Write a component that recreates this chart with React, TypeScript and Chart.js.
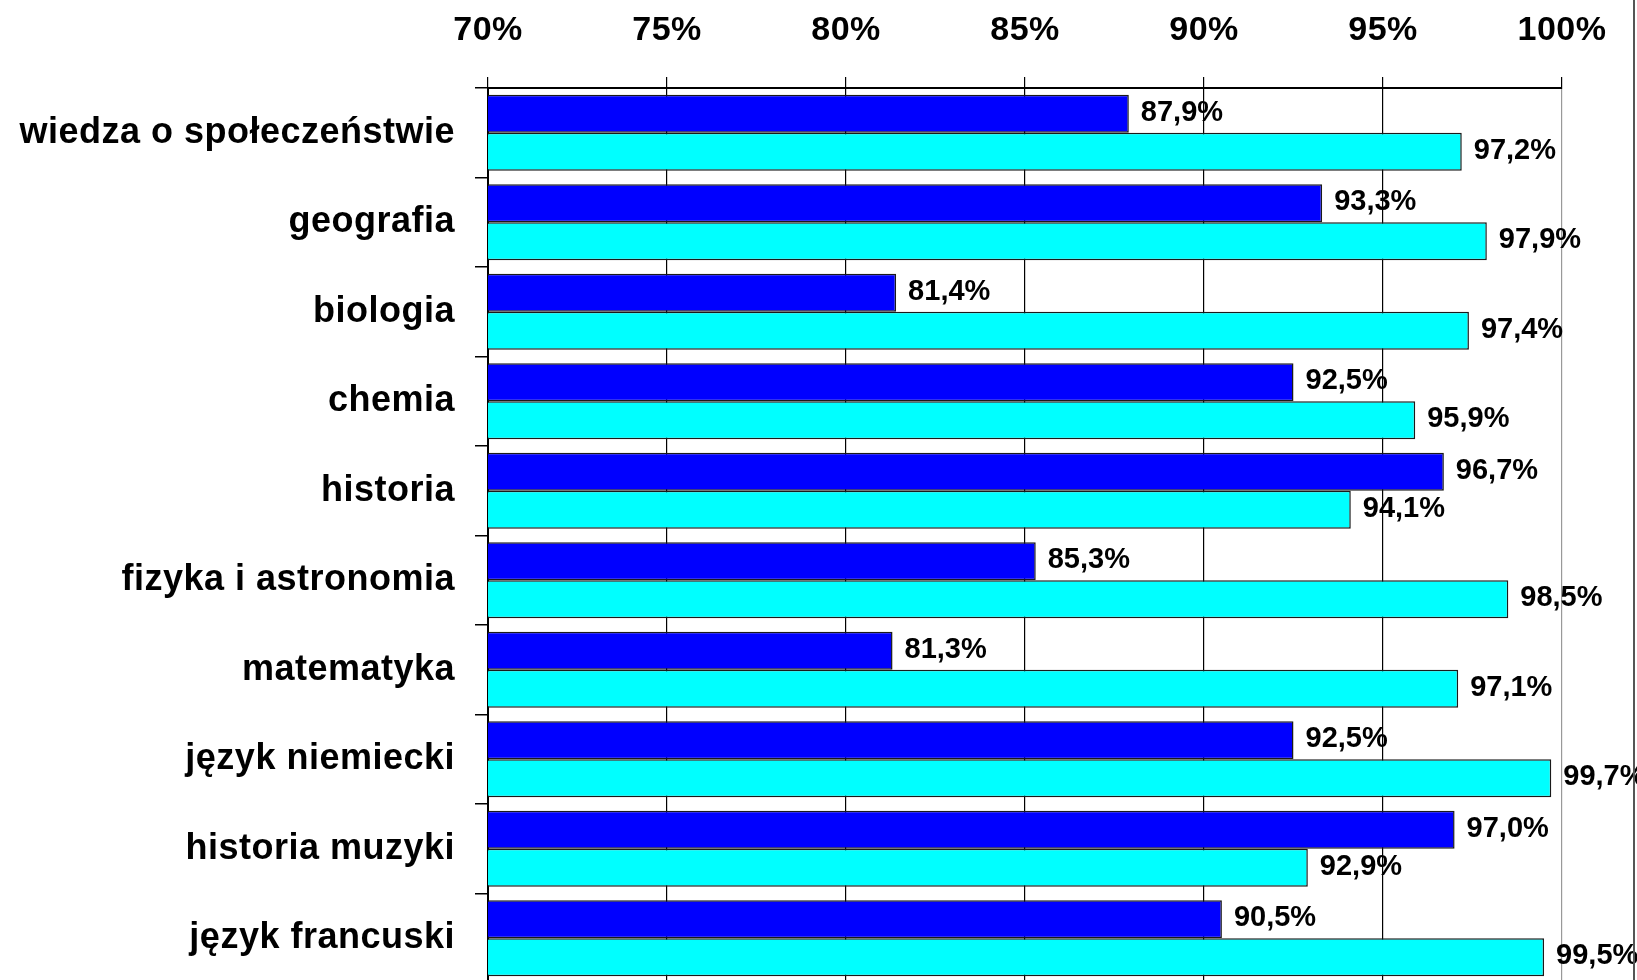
import { useEffect, useRef } from 'react';
import { Chart, registerables } from 'chart.js';

Chart.register(...registerables);

const categories = [
  'wiedza o społeczeństwie',
  'geografia',
  'biologia',
  'chemia',
  'historia',
  'fizyka i astronomia',
  'matematyka',
  'język niemiecki',
  'historia muzyki',
  'język francuski',
];
const seriesDark = [87.9, 93.3, 81.4, 92.5, 96.7, 85.3, 81.3, 92.5, 97.0, 90.5];
const seriesLight = [97.2, 97.9, 97.4, 95.9, 94.1, 98.5, 97.1, 99.7, 92.9, 99.5];
const axisMin = 70;
const axisMax = 100;
const axisStep = 5;

const FONT = '"Liberation Sans", Arial, Helvetica, sans-serif';

export default function App() {
  const ref = useRef<HTMLCanvasElement>(null);

  useEffect(() => {
    const canvas = ref.current;
    if (!canvas) return;

    const labelsPlugin = {
      id: 'valueLabels',
      beforeDraw(chart: any) {
        chart.ctx.letterSpacing = '0.5px';
      },
      afterDatasetsDraw(chart: any) {
        const ctx = chart.ctx;
        ctx.save();
        ctx.letterSpacing = '0px';
        ctx.font = `bold 29px ${FONT}`;
        ctx.fillStyle = '#000';
        ctx.textAlign = 'left';
        ctx.textBaseline = 'middle';
        chart.data.datasets.forEach((ds: any, di: number) => {
          const meta = chart.getDatasetMeta(di);
          meta.data.forEach((el: any, i: number) => {
            const v = ds.data[i] as number;
            const txt = v.toFixed(1).replace('.', ',') + '%';
            ctx.fillText(txt, el.x + 12, el.y - 1);
          });
        });
        ctx.restore();
      },
      afterDraw(chart: any) {
        const ctx = chart.ctx;
        ctx.save();
        ctx.fillStyle = '#555';
        ctx.fillRect(1633, 0, 2, chart.height);
        ctx.restore();
      },
    };

    const chart = new Chart(canvas, {
      type: 'bar',
      data: {
        labels: categories,
        datasets: [
          {
            data: seriesDark,
            backgroundColor: '#0000FF',
            borderColor: '#1a1a1a',
            borderWidth: 1.5,
            categoryPercentage: 0.85,
            barPercentage: 1,
          },
          {
            data: seriesLight,
            backgroundColor: '#00FFFF',
            borderColor: '#1a1a1a',
            borderWidth: 1.5,
            categoryPercentage: 0.85,
            barPercentage: 1,
          },
        ],
      },
      options: {
        indexAxis: 'y',
        responsive: false,
        maintainAspectRatio: false,
        devicePixelRatio: 1,
        animation: false,
        layout: { padding: { top: 0, left: 0, right: 75, bottom: 1 } },
        plugins: {
          legend: { display: false },
          tooltip: { enabled: false },
        },
        scales: {
          x: {
            position: 'top',
            min: axisMin,
            max: axisMax,
            ticks: {
              stepSize: axisStep,
              callback: (v: any) => `${v}%`,
              font: { family: FONT, size: 34, weight: 'bold' },
              color: '#000',
              padding: 26,
            },
            grid: {
              color: (c: any) => (c.tick && c.tick.value === axisMax ? '#999' : '#000'),
              tickColor: '#000',
              tickLength: 11,
              lineWidth: 1.2,
            },
            border: { color: '#000', width: 2 },
            afterFit: (s: any) => {
              s.height = 88;
              s.paddingLeft = 0;
              s.paddingRight = 0;
            },
          },
          y: {
            ticks: {
              font: { family: FONT, size: 36, weight: 'bold' },
              color: '#000',
              padding: 20,
            },
            grid: {
              drawOnChartArea: false,
              tickLength: 13,
              tickColor: '#000',
              lineWidth: 1.5,
              offset: true,
            },
            border: { color: '#000', width: 2 },
            afterFit: (s: any) => {
              s.width = 488;
              s.paddingTop = 0;
              s.paddingBottom = 0;
            },
          },
        },
      } as any,
      plugins: [labelsPlugin],
    });

    return () => chart.destroy();
  }, []);

  return (
    <div
      style={{
        position: 'fixed',
        left: 0,
        top: 0,
        width: 1637,
        height: 980,
        overflow: 'hidden',
        background: '#fff',
      }}
    >
      <canvas ref={ref} width={1637} height={984} style={{ display: 'block' }} />
    </div>
  );
}
